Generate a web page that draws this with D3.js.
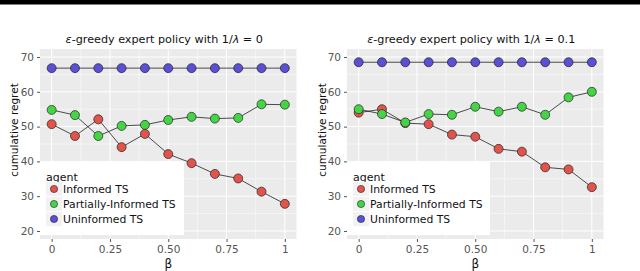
<!DOCTYPE html>
<html>
<head>
<script src="https://d3js.org/d3.v7.min.js"></script>
<style>
  body { margin: 0; background: white; }
  text { font-family: "DejaVu Sans", sans-serif; }
</style>
</head>
<body>
<svg width="640" height="271"></svg>
<script>
// beta values on the x axis
const betas = [0, 0.1, 0.2, 0.3, 0.4, 0.5, 0.6, 0.7, 0.8, 0.9, 1];
const agents = ["Informed TS", "Partially-Informed TS", "Uninformed TS"];
const colors = ["#e2534c", "#44d544", "#5a4fd6"];

// left panel: 1/lambda = 0
const informed0 = [50.7, 47.3, 52.1, 44.1, 47.9, 42.1, 39.5, 36.4, 35.1, 31.3, 27.8];
const partial0 = [54.8, 53.3, 47.3, 50.2, 50.5, 51.9, 52.8, 52.3, 52.5, 56.4, 56.3];
const uninformed0 = [66.8, 66.8, 66.8, 66.8, 66.8, 66.8, 66.8, 66.8, 66.8, 66.8, 66.8];

// right panel: 1/lambda = 0.1
const informed1 = [54.0, 55.0, 51.0, 50.7, 47.7, 47.1, 43.6, 42.8, 38.3, 37.7, 32.6];
const partial1 = [55.0, 53.6, 51.2, 53.6, 53.4, 55.7, 54.3, 55.7, 53.4, 58.4, 60.0];
const uninformed1 = [68.5, 68.5, 68.5, 68.5, 68.5, 68.5, 68.5, 68.5, 68.5, 68.5, 68.5];

const xTicks = [0, 0.25, 0.5, 0.75, 1];
const xTickLabels = ["0", "0.25", "0.50", "0.75", "1"];
const yTicks = [20, 30, 40, 50, 60, 70];

const svg = d3.select("svg");

// black band at the top of the image
svg.append("rect").attr("x", 0).attr("y", 0).attr("width", 640).attr("height", 4.5).attr("fill", "black");

const panels = [
  { left: 40, right: 296.5, title: "= 0", series: [informed0, partial0, uninformed0], ylab: 14, legendW: 144 },
  { left: 347, right: 603.5, title: "= 0.1", series: [informed1, partial1, uninformed1], ylab: 322, legendW: 143 }
];

const panelTop = 49, panelBottom = 239;

panels.forEach(p => {
  const g = svg.append("g");
  const x = d3.scaleLinear().domain([-0.05, 1.05]).range([p.left, p.right]);
  const y = d3.scaleLinear().domain([17.7, 72.3]).range([panelBottom, panelTop]);

  g.append("rect")
    .attr("x", p.left).attr("y", panelTop)
    .attr("width", p.right - p.left).attr("height", panelBottom - panelTop)
    .attr("fill", "#ebebeb");

  // minor grid
  const xMinor = [0.125, 0.375, 0.625, 0.875];
  const yMinor = [25, 35, 45, 55, 65];
  g.append("g").selectAll("line").data(xMinor).join("line")
    .attr("x1", d => x(d)).attr("x2", d => x(d)).attr("y1", panelTop).attr("y2", panelBottom)
    .attr("stroke", "white").attr("stroke-width", 0.5);
  g.append("g").selectAll("line").data(yMinor).join("line")
    .attr("y1", d => y(d)).attr("y2", d => y(d)).attr("x1", p.left).attr("x2", p.right)
    .attr("stroke", "white").attr("stroke-width", 0.5);

  // major grid
  g.append("g").selectAll("line").data(xTicks).join("line")
    .attr("x1", d => x(d)).attr("x2", d => x(d)).attr("y1", panelTop).attr("y2", panelBottom)
    .attr("stroke", "white").attr("stroke-width", 1);
  g.append("g").selectAll("line").data(yTicks).join("line")
    .attr("y1", d => y(d)).attr("y2", d => y(d)).attr("x1", p.left).attr("x2", p.right)
    .attr("stroke", "white").attr("stroke-width", 1);

  // axes
  const xAxis = g.append("g")
    .attr("transform", `translate(0,${panelBottom})`)
    .call(d3.axisBottom(x).tickValues(xTicks).tickFormat((d, i) => xTickLabels[i]).tickSize(3).tickPadding(4));
  const yAxis = g.append("g")
    .attr("transform", `translate(${p.left},0)`)
    .call(d3.axisLeft(y).tickValues(yTicks).tickSize(3).tickPadding(3));
  [xAxis, yAxis].forEach(a => {
    a.select(".domain").remove();
    a.selectAll(".tick line").attr("stroke", "#555");
    a.selectAll(".tick text").attr("fill", "#555").style("font-size", "10.5px")
      .style("font-family", "DejaVu Sans, sans-serif");
  });

  // lines and points
  p.series.forEach((s, k) => {
    const line = d3.line().x((d, i) => x(betas[i])).y(d => y(d));
    g.append("path").datum(s)
      .attr("d", line).attr("fill", "none")
      .attr("stroke", "#222").attr("stroke-width", 0.8);
  });
  p.series.forEach((s, k) => {
    g.append("g").selectAll("circle").data(s).join("circle")
      .attr("cx", (d, i) => x(betas[i])).attr("cy", d => y(d))
      .attr("r", 4.5)
      .attr("fill", colors[k]).attr("stroke", "#222").attr("stroke-width", 0.7);
  });

  // title
  const t = g.append("text")
    .attr("x", (p.left + p.right) / 2 - 4).attr("y", 43)
    .attr("text-anchor", "middle").style("font-size", "11.2px").attr("fill", "#111");
  t.append("tspan").style("font-style", "italic").text("ε");
  t.append("tspan").text("-greedy expert policy with 1/");
  t.append("tspan").style("font-style", "italic").text("λ");
  t.append("tspan").text(" " + p.title);

  // axis labels
  g.append("text")
    .attr("transform", `translate(${p.ylab + 4},130) rotate(-90)`)
    .attr("text-anchor", "middle").style("font-size", "10.5px").attr("fill", "#111")
    .text("cumulative regret");
  g.append("text")
    .attr("x", (p.left + p.right) / 2).attr("y", 268)
    .attr("text-anchor", "middle").style("font-size", "12px").attr("fill", "#111")
    .text("β");

  // legend
  const lg = g.append("g").attr("transform", `translate(${p.left},162)`);
  lg.append("rect").attr("width", p.legendW).attr("height", 73).attr("fill", "white");
  lg.append("text").attr("x", 6).attr("y", 19).style("font-size", "11px").attr("fill", "#111").text("agent");
  agents.forEach((a, k) => {
    const yy = 27 + k * 15;
    lg.append("rect").attr("x", 6).attr("y", yy - 7).attr("width", 16).attr("height", 14).attr("fill", "#f2f2f2");
    lg.append("circle").attr("cx", 14).attr("cy", yy).attr("r", 3.6)
      .attr("fill", colors[k]).attr("stroke", "#222").attr("stroke-width", 0.6);
    lg.append("text").attr("x", 23).attr("y", yy + 4).style("font-size", "10.8px").attr("fill", "#111").text(a);
  });
});
</script>
</body>
</html>
